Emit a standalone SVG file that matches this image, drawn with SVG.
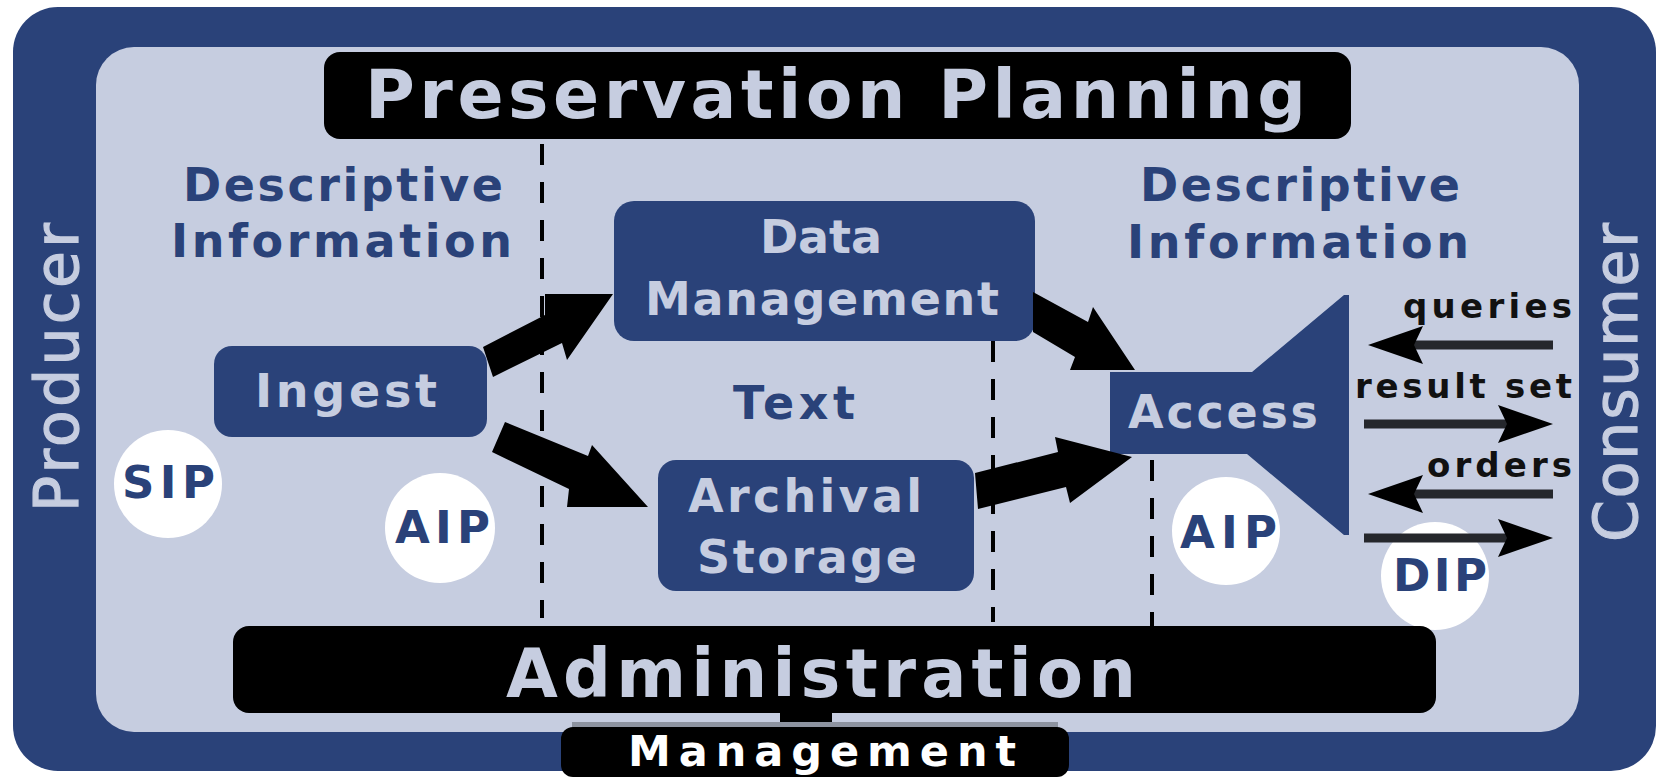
<svg xmlns="http://www.w3.org/2000/svg" width="1658" height="778" viewBox="0 0 1658 778">
<defs>
<style>
.t{font-family:"DejaVu Sans",Verdana,sans-serif;font-weight:bold}
.lt{fill:#c6cde0}
.bt{fill:#2a4279}
.node{fill:#2a4279}
.bar{fill:#000}
.dash{stroke:#000;stroke-width:4;stroke-dasharray:21 17;fill:none}
.big{fill:#000}
.thin{stroke:#25272c;stroke-width:9;fill:none}
.pkg{fill:#fff}
.side{font-family:"DejaVu Sans",Verdana,sans-serif;font-size:60px;fill:#c6cde0;stroke:#c6cde0;stroke-width:1.2}
</style>
<marker id="ah" viewBox="-56 -20 58 40" refX="-46" refY="0" markerWidth="58" markerHeight="40" markerUnits="userSpaceOnUse" orient="auto">
<path d="M0,0 L-55,-19 L-46,0 L-55,19 Z" fill="#000"/>
</marker>
</defs>
<rect x="0" y="0" width="1658" height="778" fill="#fff"/>
<rect x="13" y="7" width="1643" height="764" rx="45" fill="#2a4279"/>
<rect x="96" y="47" width="1483" height="685" rx="38" fill="#c6cde0"/>

<g id="producer"><text class="side" transform="translate(78,512) rotate(-90)" textLength="289" lengthAdjust="spacing">Producer</text></g>
<g id="consumer"><text class="side" transform="translate(1637,542) rotate(-90)" textLength="319" lengthAdjust="spacing">Consumer</text></g>

<g id="preservation-planning">
<rect class="bar" x="324" y="52" width="1027" height="87" rx="16"/>
<text class="t lt" x="365" y="118" font-size="68" textLength="941" lengthAdjust="spacing">Preservation Planning</text>
</g>

<g id="dividers">
<line class="dash" x1="542" y1="144" x2="542" y2="618"/>
<line class="dash" x1="993" y1="341" x2="993" y2="622"/>
<line class="dash" x1="1152" y1="460" x2="1152" y2="626"/>
</g>

<g id="desc-left">
<text class="t bt" x="183" y="201" font-size="46" textLength="320" lengthAdjust="spacing">Descriptive</text>
<text class="t bt" x="171" y="257" font-size="46" textLength="341" lengthAdjust="spacing">Information</text>
</g>
<g id="desc-right">
<text class="t bt" x="1140" y="201" font-size="46" textLength="320" lengthAdjust="spacing">Descriptive</text>
<text class="t bt" x="1127" y="258" font-size="46" textLength="342" lengthAdjust="spacing">Information</text>
</g>
<g id="text-label">
<text class="t bt" x="733" y="419" font-size="46" textLength="122" lengthAdjust="spacing">Text</text>
</g>

<g id="ingest">
<rect class="node" x="214" y="346" width="273" height="91" rx="18"/>
<text class="t lt" x="255" y="407" font-size="46" textLength="182" lengthAdjust="spacing">Ingest</text>
</g>
<g id="data-management">
<rect class="node" x="614" y="201" width="421" height="140" rx="20"/>
<text class="t lt" x="760" y="253" font-size="46" textLength="122" lengthAdjust="spacing">Data</text>
<text class="t lt" x="645" y="315" font-size="46" textLength="354" lengthAdjust="spacing">Management</text>
</g>
<g id="archival-storage">
<rect class="node" x="658" y="460" width="316" height="131" rx="18"/>
<text class="t lt" x="688" y="512" font-size="46" textLength="234" lengthAdjust="spacing">Archival</text>
<text class="t lt" x="697" y="573" font-size="46" textLength="220" lengthAdjust="spacing">Storage</text>
</g>
<g id="access">
<polygon class="node" points="1110,372 1252,372 1344,295 1349,295 1349,535 1344,535 1247,454 1110,454"/>
<text class="t lt" x="1128" y="428" font-size="46" textLength="190" lengthAdjust="spacing">Access</text>
</g>

<g id="sip"><circle class="pkg" cx="168" cy="484" r="54"/><text class="t bt" x="122" y="498" font-size="45" textLength="93" lengthAdjust="spacing">SIP</text></g>
<g id="aip-left"><circle class="pkg" cx="440" cy="528" r="55"/><text class="t bt" x="395" y="543" font-size="45" textLength="95" lengthAdjust="spacing">AIP</text></g>
<g id="aip-right"><circle class="pkg" cx="1226" cy="531" r="54"/><text class="t bt" x="1180" y="548" font-size="45" textLength="97" lengthAdjust="spacing">AIP</text></g>
<g id="dip"><circle class="pkg" cx="1435" cy="576" r="54"/><text class="t bt" x="1393" y="591" font-size="45" textLength="94" lengthAdjust="spacing">DIP</text></g>

<g id="connectors">
<polygon class="big" points="483,347 545,315 545,294 613,294 567,360 562,343 493,377"/>
<polygon class="big" points="505,422 588,456 592,445 648,507 567,507 569,489 492,452"/>
<polygon class="big" points="1033,292 1088,322 1093,307 1135,370 1070,370 1075,357 1033,332"/>
<polygon class="big" points="975,473 1058,452 1055,437 1132,457 1070,503 1066,487 978,509"/>
<line class="thin" x1="1553" y1="345" x2="1414" y2="345" marker-end="url(#ah)"/>
<line class="thin" x1="1364" y1="424" x2="1507" y2="424" marker-end="url(#ah)"/>
<line class="thin" x1="1553" y1="494" x2="1414" y2="494" marker-end="url(#ah)"/>
<line class="thin" x1="1364" y1="538" x2="1507" y2="538" marker-end="url(#ah)"/>
<rect class="bar" x="780" y="708" width="52" height="22"/>
</g>

<g id="flow-labels">
<text class="t" x="1403" y="318" font-size="34" fill="#111" textLength="169" lengthAdjust="spacing">queries</text>
<text class="t" x="1355" y="398" font-size="34" fill="#111" textLength="217" lengthAdjust="spacing">result set</text>
<text class="t" x="1427" y="477" font-size="34" fill="#111" textLength="145" lengthAdjust="spacing">orders</text>
</g>

<g id="administration">
<rect class="bar" x="233" y="626" width="1203" height="87" rx="16"/>
<text class="t lt" x="506" y="697" font-size="67" textLength="630" lengthAdjust="spacing">Administration</text>
</g>

<g id="management">
<rect x="572" y="722" width="486" height="6" fill="#8d93a0"/>
<rect class="bar" x="561" y="727" width="508" height="50" rx="12"/>
<text class="t" x="628" y="766" font-size="43" fill="#fff" textLength="388" lengthAdjust="spacing">Management</text>
</g>
</svg>
